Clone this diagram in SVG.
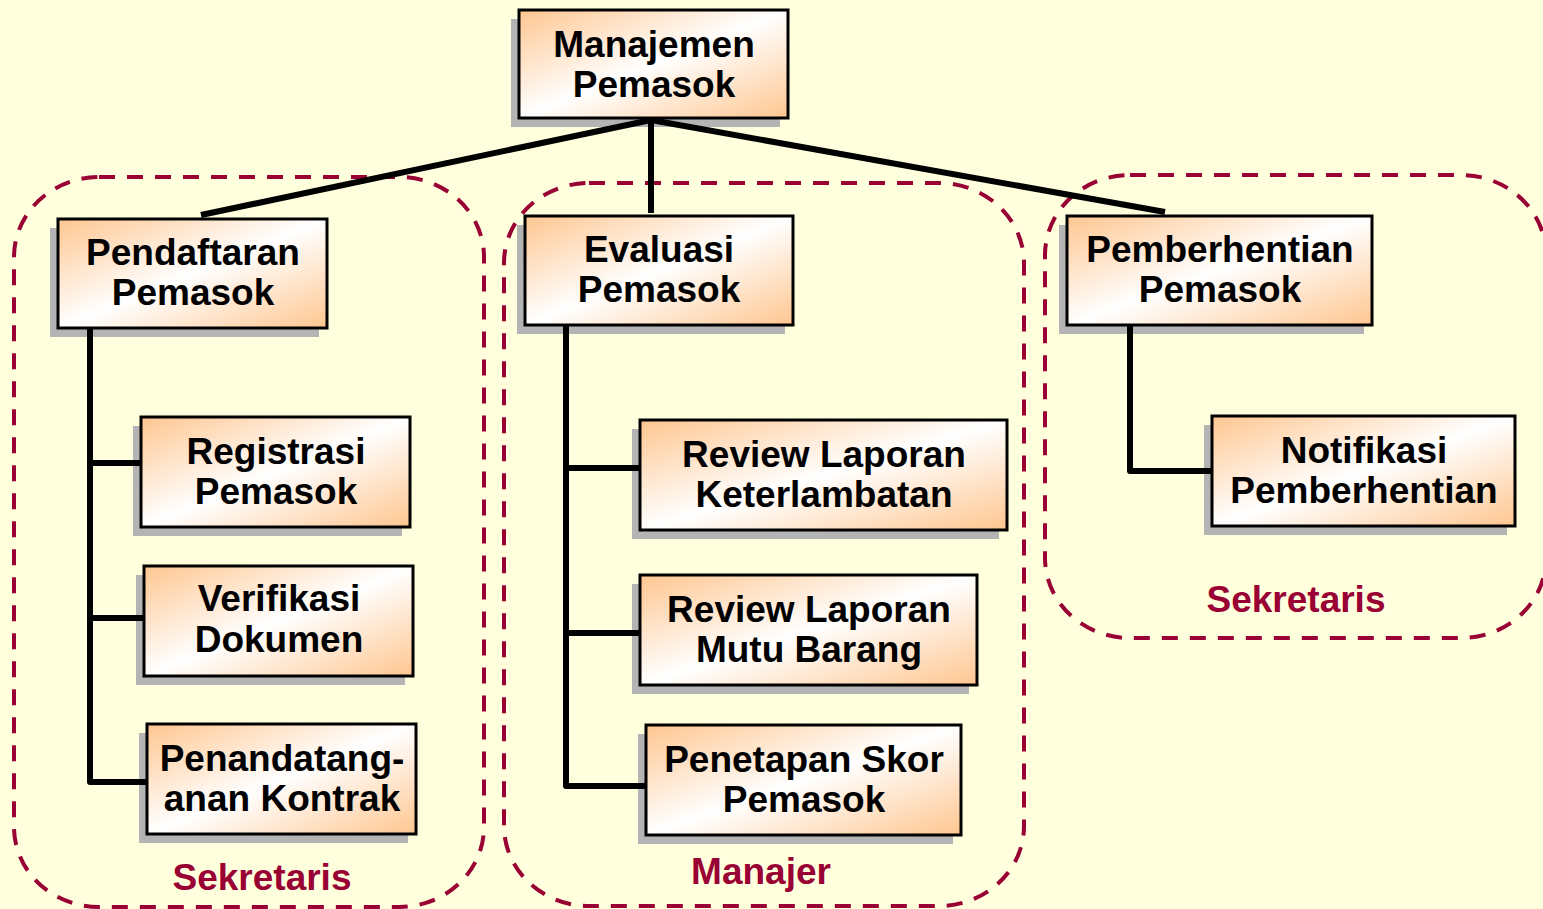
<svg xmlns="http://www.w3.org/2000/svg" width="1543" height="909" viewBox="0 0 1543 909">
  <defs>
    <linearGradient id="boxFill" x1="0" y1="0" x2="1" y2="1">
      <stop offset="0" stop-color="#FFC690"/>
      <stop offset="0.5" stop-color="#FFFFFF"/>
      <stop offset="1" stop-color="#FFC690"/>
    </linearGradient>
  </defs>
  <style>
    .bg { fill: #FFFFDD; }
    .group { fill: none; stroke: #990033; stroke-width: 4; stroke-dasharray: 16 12; }
    .role { font-family: "Liberation Sans", Arial, sans-serif; font-weight: bold; font-size: 37px; fill: #990033; text-anchor: middle; }
    .shadow { fill: #B4B4B4; }
    .box { fill: url(#boxFill); stroke: #000; stroke-width: 3; }
    .label { font-family: "Liberation Sans", Arial, sans-serif; font-weight: bold; font-size: 37px; fill: #000; text-anchor: middle; }
    .wire { fill: none; stroke: #000; stroke-width: 6; stroke-linejoin: round; }
  </style>

  <rect class="bg" x="0" y="0" width="1543" height="909"/>

  <!-- responsibility areas -->
  <g id="areas">
    <rect class="group" x="14" y="177" width="470" height="730" rx="85" ry="80"/>
    <rect class="group" x="504" y="183" width="520" height="723" rx="85" ry="80"/>
    <rect class="group" x="1045" y="175" width="501" height="463" rx="85" ry="80"/>
    <text class="role" x="262" y="890">Sekretaris</text>
    <text class="role" x="761" y="884">Manajer</text>
    <text class="role" x="1296" y="612">Sekretaris</text>
  </g>

  <!-- drop shadows sit under the connectors -->
  <g id="shadows">
    <rect class="shadow" x="511" y="19" width="269" height="108"/>
    <rect class="shadow" x="50" y="228" width="269" height="109"/>
    <rect class="shadow" x="517" y="225" width="268" height="109"/>
    <rect class="shadow" x="1059" y="225" width="305" height="109"/>
    <rect class="shadow" x="133" y="426" width="269" height="110"/>
    <rect class="shadow" x="136" y="575" width="269" height="110"/>
    <rect class="shadow" x="139" y="733" width="269" height="110"/>
    <rect class="shadow" x="632" y="429" width="367" height="110"/>
    <rect class="shadow" x="632" y="584" width="337" height="110"/>
    <rect class="shadow" x="638" y="734" width="315" height="110"/>
    <rect class="shadow" x="1204" y="425" width="303" height="110"/>
  </g>

  <!-- connectors -->
  <g id="connectors">
    <path class="wire" d="M651 120 L201 215"/>
    <path class="wire" d="M651 118 L651 213"/>
    <path class="wire" d="M651 120 L1165 212"/>
    <path class="wire" d="M90 328 L90 782 L147 782 M90 463 L141 463 M90 618 L144 618"/>
    <path class="wire" d="M566 325 L566 786 L646 786 M566 468 L640 468 M566 633 L640 633"/>
    <path class="wire" d="M1130 325 L1130 471 L1212 471"/>
  </g>

  <g id="manajemen-pemasok">
    <rect class="box" x="519" y="10" width="269" height="108"/>
    <text class="label" x="654" y="57">Manajemen</text>
    <text class="label" x="654" y="97">Pemasok</text>
  </g>

  <g id="pendaftaran-pemasok">
    <rect class="box" x="58" y="219" width="269" height="109"/>
    <text class="label" x="193" y="265">Pendaftaran</text>
    <text class="label" x="193" y="305">Pemasok</text>
  </g>

  <g id="evaluasi-pemasok">
    <rect class="box" x="525" y="216" width="268" height="109"/>
    <text class="label" x="659" y="262">Evaluasi</text>
    <text class="label" x="659" y="302">Pemasok</text>
  </g>

  <g id="pemberhentian-pemasok">
    <rect class="box" x="1067" y="216" width="305" height="109"/>
    <text class="label" x="1220" y="262">Pemberhentian</text>
    <text class="label" x="1220" y="302">Pemasok</text>
  </g>

  <g id="registrasi-pemasok">
    <rect class="box" x="141" y="417" width="269" height="110"/>
    <text class="label" x="276" y="464">Registrasi</text>
    <text class="label" x="276" y="504">Pemasok</text>
  </g>

  <g id="verifikasi-dokumen">
    <rect class="box" x="144" y="566" width="269" height="110"/>
    <text class="label" x="279" y="611">Verifikasi</text>
    <text class="label" x="279" y="652">Dokumen</text>
  </g>

  <g id="penandatanganan-kontrak">
    <rect class="box" x="147" y="724" width="269" height="110"/>
    <text class="label" x="282" y="771">Penandatang-</text>
    <text class="label" x="282" y="811">anan Kontrak</text>
  </g>

  <g id="review-keterlambatan">
    <rect class="box" x="640" y="420" width="367" height="110"/>
    <text class="label" x="824" y="467">Review Laporan</text>
    <text class="label" x="824" y="507">Keterlambatan</text>
  </g>

  <g id="review-mutu-barang">
    <rect class="box" x="640" y="575" width="337" height="110"/>
    <text class="label" x="809" y="622">Review Laporan</text>
    <text class="label" x="809" y="662">Mutu Barang</text>
  </g>

  <g id="penetapan-skor">
    <rect class="box" x="646" y="725" width="315" height="110"/>
    <text class="label" x="804" y="772">Penetapan Skor</text>
    <text class="label" x="804" y="812">Pemasok</text>
  </g>

  <g id="notifikasi-pemberhentian">
    <rect class="box" x="1212" y="416" width="303" height="110"/>
    <text class="label" x="1364" y="463">Notifikasi</text>
    <text class="label" x="1364" y="503">Pemberhentian</text>
  </g>
</svg>
